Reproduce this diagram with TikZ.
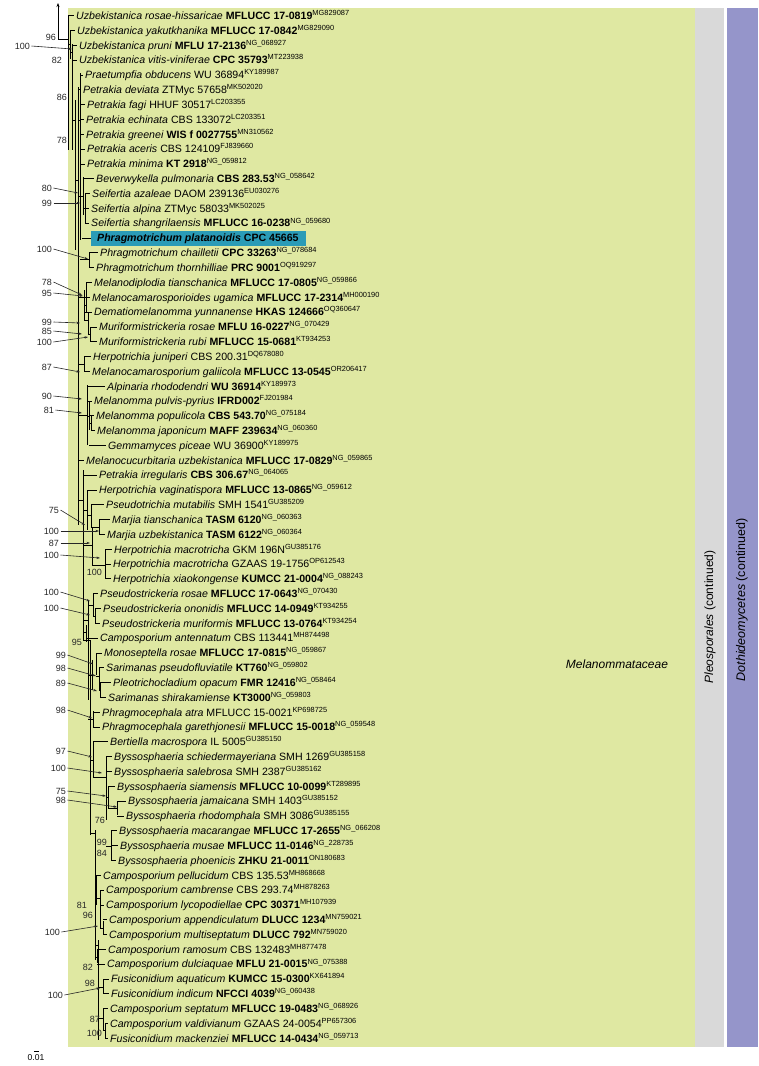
\documentclass[tikz,border=0pt]{standalone}
\usepackage{fontspec}
\setmainfont{Liberation Sans}
\usetikzlibrary{arrows.meta}
\definecolor{bggreen}{HTML}{DFE8A2}
\definecolor{bggray}{HTML}{D9D9D9}
\definecolor{bgpurple}{HTML}{9595CA}
\definecolor{hl}{HTML}{2A9BB7}
\newcommand\acc[1]{\textsuperscript{#1}}
\pgfmathdeclarefunction{ry}{1}{\pgfmathparse{15.7+14.82*(#1-1)}}
\tikzset{
  tx/.style={anchor=base west, inner sep=0pt, font=\fontsize{10.6}{12}\selectfont},
  bs/.style={anchor=east, inner sep=0pt, font=\fontsize{9}{10}\selectfont, text=black!85},
  br/.style={line width=0.8pt},
  bsarrow/.style={-{Stealth[length=3.5pt,width=2.4pt]}, line width=0.6pt, black!85},
}
\begin{document}
\begin{tikzpicture}[x=1pt,y=-1pt]
\useasboundingbox (0,0) rectangle (758,1066);
% backgrounds
\fill[bggreen] (68,8) rectangle (695,1047);
\fill[bggray] (695,8) rectangle (724,1047);
\fill[bgpurple] (727,8) rectangle (758,1047);
\fill[hl] (91,231) rectangle (306,246);

% taxa
\node[tx] (t1) at (76,{ry(1)+3.8}) {\textit{Uzbekistanica rosae-hissaricae} \textbf{MFLUCC 17-0819}\acc{MG829087}};
\node[tx] (t2) at (77,{ry(2)+3.8}) {\textit{Uzbekistanica yakutkhanika} \textbf{MFLUCC 17-0842}\acc{MG829090}};
\node[tx] (t3) at (79,{ry(3)+3.8}) {\textit{Uzbekistanica pruni} \textbf{MFLU 17-2136}\acc{NG\_068927}};
\node[tx] (t4) at (79,{ry(4)+3.8}) {\textit{Uzbekistanica vitis-viniferae} \textbf{CPC 35793}\acc{MT223938}};
\node[tx] (t5) at (85,{ry(5)+3.8}) {\textit{Praetumpfia obducens} WU 36894\acc{KY189987}};
\node[tx] (t6) at (83,{ry(6)+3.8}) {\textit{Petrakia deviata} ZTMyc 57658\acc{MK502020}};
\node[tx] (t7) at (87,{ry(7)+3.8}) {\textit{Petrakia fagi} HHUF 30517\acc{LC203355}};
\node[tx] (t8) at (86,{ry(8)+3.8}) {\textit{Petrakia echinata} CBS 133072\acc{LC203351}};
\node[tx] (t9) at (86,{ry(9)+3.8}) {\textit{Petrakia greenei} \textbf{WIS f 0027755}\acc{MN310562}};
\node[tx] (t10) at (87,{ry(10)+3.8}) {\textit{Petrakia aceris} CBS 124109\acc{FJ839660}};
\node[tx] (t11) at (87,{ry(11)+3.8}) {\textit{Petrakia minima} \textbf{KT 2918}\acc{NG\_059812}};
\node[tx] (t12) at (96,{ry(12)+3.8}) {\textit{Beverwykella pulmonaria} \textbf{CBS 283.53}\acc{NG\_058642}};
\node[tx] (t13) at (92,{ry(13)+3.8}) {\textit{Seifertia azaleae} DAOM 239136\acc{EU030276}};
\node[tx] (t14) at (91,{ry(14)+3.8}) {\textit{Seifertia alpina} ZTMyc 58033\acc{MK502025}};
\node[tx] (t15) at (91,{ry(15)+3.8}) {\textit{Seifertia shangrilaensis} \textbf{MFLUCC 16-0238}\acc{NG\_059680}};
\node[tx] (t16) at (97,{ry(16)+3.8}) {\textbf{\textit{Phragmotrichum platanoidis} CPC 45665}};
\node[tx] (t17) at (100,{ry(17)+3.8}) {\textit{Phragmotrichum chailletii} \textbf{CPC 33263}\acc{NG\_078684}};
\node[tx] (t18) at (96,{ry(18)+3.8}) {\textit{Phragmotrichum thornhilliae} \textbf{PRC 9001}\acc{OQ919297}};
\node[tx] (t19) at (94,{ry(19)+3.8}) {\textit{Melanodiplodia tianschanica} \textbf{MFLUCC 17-0805}\acc{NG\_059866}};
\node[tx] (t20) at (92,{ry(20)+3.8}) {\textit{Melanocamarosporioides ugamica} \textbf{MFLUCC 17-2314}\acc{MH000190}};
\node[tx] (t21) at (94,{ry(21)+3.8}) {\textit{Dematiomelanomma yunnanense} \textbf{HKAS 124666}\acc{OQ360647}};
\node[tx] (t22) at (99,{ry(22)+3.8}) {\textit{Muriformistrickeria rosae} \textbf{MFLU 16-0227}\acc{NG\_070429}};
\node[tx] (t23) at (99,{ry(23)+3.8}) {\textit{Muriformistrickeria rubi} \textbf{MFLUCC 15-0681}\acc{KT934253}};
\node[tx] (t24) at (93,{ry(24)+3.8}) {\textit{Herpotrichia juniperi} CBS 200.31\acc{DQ678080}};
\node[tx] (t25) at (92,{ry(25)+3.8}) {\textit{Melanocamarosporium galiicola} \textbf{MFLUCC 13-0545}\acc{OR206417}};
\node[tx] (t26) at (107,{ry(26)+3.8}) {\textit{Alpinaria rhododendri} \textbf{WU 36914}\acc{KY189973}};
\node[tx] (t27) at (94,{ry(27)+3.8}) {\textit{Melanomma pulvis-pyrius} \textbf{IFRD002}\acc{FJ201984}};
\node[tx] (t28) at (96,{ry(28)+3.8}) {\textit{Melanomma populicola} \textbf{CBS 543.70}\acc{NG\_075184}};
\node[tx] (t29) at (97,{ry(29)+3.8}) {\textit{Melanomma japonicum} \textbf{MAFF 239634}\acc{NG\_060360}};
\node[tx] (t30) at (108,{ry(30)+3.8}) {\textit{Gemmamyces piceae} WU 36900\acc{KY189975}};
\node[tx] (t31) at (86,{ry(31)+3.8}) {\textit{Melanocucurbitaria uzbekistanica} \textbf{MFLUCC 17-0829}\acc{NG\_059865}};
\node[tx] (t32) at (99,{ry(32)+3.8}) {\textit{Petrakia irregularis} \textbf{CBS 306.67}\acc{NG\_064065}};
\node[tx] (t33) at (99,{ry(33)+3.8}) {\textit{Herpotrichia vaginatispora} \textbf{MFLUCC 13-0865}\acc{NG\_059612}};
\node[tx] (t34) at (106,{ry(34)+3.8}) {\textit{Pseudotrichia mutabilis} SMH 1541\acc{GU385209}};
\node[tx] (t35) at (112,{ry(35)+3.8}) {\textit{Marjia tianschanica} \textbf{TASM 6120}\acc{NG\_060363}};
\node[tx] (t36) at (107,{ry(36)+3.8}) {\textit{Marjia uzbekistanica} \textbf{TASM 6122}\acc{NG\_060364}};
\node[tx] (t37) at (114,{ry(37)+3.8}) {\textit{Herpotrichia macrotricha} GKM 196N\acc{GU385176}};
\node[tx] (t38) at (113,{ry(38)+3.8}) {\textit{Herpotrichia macrotricha} GZAAS 19-1756\acc{OP612543}};
\node[tx] (t39) at (113,{ry(39)+3.8}) {\textit{Herpotrichia xiaokongense} \textbf{KUMCC 21-0004}\acc{NG\_088243}};
\node[tx] (t40) at (100,{ry(40)+3.8}) {\textit{Pseudostrickeria rosae} \textbf{MFLUCC 17-0643}\acc{NG\_070430}};
\node[tx] (t41) at (103,{ry(41)+3.8}) {\textit{Pseudostrickeria ononidis} \textbf{MFLUCC 14-0949}\acc{KT934255}};
\node[tx] (t42) at (102,{ry(42)+3.8}) {\textit{Pseudostrickeria muriformis} \textbf{MFLUCC 13-0764}\acc{KT934254}};
\node[tx] (t43) at (100,{ry(43)+3.8}) {\textit{Camposporium antennatum} CBS 113441\acc{MH874498}};
\node[tx] (t44) at (104,{ry(44)+3.8}) {\textit{Monoseptella rosae} \textbf{MFLUCC 17-0815}\acc{NG\_059867}};
\node[tx] (t45) at (106,{ry(45)+3.8}) {\textit{Sarimanas pseudofluviatile} \textbf{KT760}\acc{NG\_059802}};
\node[tx] (t46) at (113,{ry(46)+3.8}) {\textit{Pleotrichocladium opacum} \textbf{FMR 12416}\acc{NG\_058464}};
\node[tx] (t47) at (108,{ry(47)+3.8}) {\textit{Sarimanas shirakamiense} \textbf{KT3000}\acc{NG\_059803}};
\node[tx] (t48) at (102,{ry(48)+3.8}) {\textit{Phragmocephala atra} MFLUCC 15-0021\acc{KP698725}};
\node[tx] (t49) at (102,{ry(49)+3.8}) {\textit{Phragmocephala garethjonesii} \textbf{MFLUCC 15-0018}\acc{NG\_059548}};
\node[tx] (t50) at (110,{ry(50)+3.8}) {\textit{Bertiella macrospora} IL 5005\acc{GU385150}};
\node[tx] (t51) at (114,{ry(51)+3.8}) {\textit{Byssosphaeria schiedermayeriana} SMH 1269\acc{GU385158}};
\node[tx] (t52) at (114,{ry(52)+3.8}) {\textit{Byssosphaeria salebrosa} SMH 2387\acc{GU385162}};
\node[tx] (t53) at (117,{ry(53)+3.8}) {\textit{Byssosphaeria siamensis} \textbf{MFLUCC 10-0099}\acc{KT289895}};
\node[tx] (t54) at (128,{ry(54)+3.8}) {\textit{Byssosphaeria jamaicana} SMH 1403\acc{GU385152}};
\node[tx] (t55) at (126,{ry(55)+3.8}) {\textit{Byssosphaeria rhodomphala} SMH 3086\acc{GU385155}};
\node[tx] (t56) at (119,{ry(56)+3.8}) {\textit{Byssosphaeria macarangae} \textbf{MFLUCC 17-2655}\acc{NG\_066208}};
\node[tx] (t57) at (120,{ry(57)+3.8}) {\textit{Byssosphaeria musae} \textbf{MFLUCC 11-0146}\acc{NG\_228735}};
\node[tx] (t58) at (118,{ry(58)+3.8}) {\textit{Byssosphaeria phoenicis} \textbf{ZHKU 21-0011}\acc{ON180683}};
\node[tx] (t59) at (103,{ry(59)+3.8}) {\textit{Camposporium pellucidum} CBS 135.53\acc{MH868668}};
\node[tx] (t60) at (106,{ry(60)+3.8}) {\textit{Camposporium cambrense} CBS 293.74\acc{MH878263}};
\node[tx] (t61) at (106,{ry(61)+3.8}) {\textit{Camposporium lycopodiellae} \textbf{CPC 30371}\acc{MH107939}};
\node[tx] (t62) at (109,{ry(62)+3.8}) {\textit{Camposporium appendiculatum} \textbf{DLUCC 1234}\acc{MN759021}};
\node[tx] (t63) at (109,{ry(63)+3.8}) {\textit{Camposporium multiseptatum} \textbf{DLUCC 792}\acc{MN759020}};
\node[tx] (t64) at (108,{ry(64)+3.8}) {\textit{Camposporium ramosum} CBS 132483\acc{MH877478}};
\node[tx] (t65) at (107,{ry(65)+3.8}) {\textit{Camposporium dulciaquae} \textbf{MFLU 21-0015}\acc{NG\_075388}};
\node[tx] (t66) at (111,{ry(66)+3.8}) {\textit{Fusiconidium aquaticum} \textbf{KUMCC 15-0300}\acc{KX641894}};
\node[tx] (t67) at (111,{ry(67)+3.8}) {\textit{Fusiconidium indicum} \textbf{NFCCI 4039}\acc{NG\_060438}};
\node[tx] (t68) at (110,{ry(68)+3.8}) {\textit{Camposporium septatum} \textbf{MFLUCC 19-0483}\acc{NG\_068926}};
\node[tx] (t69) at (110,{ry(69)+3.8}) {\textit{Camposporium valdivianum} GZAAS 24-0054\acc{PP657306}};
\node[tx] (t70) at (110,{ry(70)+3.8}) {\textit{Fusiconidium mackenziei} \textbf{MFLUCC 14-0434}\acc{NG\_059713}};

% tree: root arrow
\coordinate (root) at (58,39);
\coordinate (rootup) at (58,3);
\draw[br,-{Stealth[length=4pt,width=3pt]}] (root) -- (rootup);
% tips (row / parent x / tip end x)
\foreach \i/\p/\e in {1/68/74,2/70/75,3/72/77,4/72/77,5/80/83,6/78/81,7/80/85,8/80/84,9/80/84,10/80/85,
  11/80/85,12/83/94,13/85/90,14/85/89,15/85/89,16/82/91,17/89/98,18/89/94,19/86/92,20/84/90,
  21/84/92,22/90/97,23/90/97,24/84/91,25/84/90,26/87/105,27/87/92,28/89/94,29/91/95,30/89/106,
  31/78/84,32/83/97,33/87/97,34/91/104,35/99/110,36/99/105,37/105/112,38/105/111,39/105/111,40/93/98,
  41/95/101,42/95/100,43/86/98,44/96/102,45/99/104,46/100/111,47/100/106,48/93/100,49/93/100,50/93/108,
  51/106/112,52/106/112,53/108/115,54/117/126,55/117/124,56/111/117,57/111/118,58/111/116,59/96/101,60/100/104,
  61/100/104,62/103/107,63/103/107,64/97/106,65/97/105,66/103/109,67/103/109,68/103/108,69/105/108,70/105/108}
  {\draw[br] (\p,{ry(\i)}) -- (\e,{ry(\i)});}
% vertical lines (x / top / bottom)
\foreach \x/\a/\b in {68/15.7/150,70/30/59,72/44/59,72/59/150,75/100/250,78/87/525,80/73/164,80/164/240,
  83/177/215,85/194/223,89/252/267,86/283/312,84/290/320,88/312/334,90/327/341,84/356/372,87/385/445,
  89/402/430,91/416/430,83/470/640,87/490/530,91/504/527,99/520/535,92/527/565,105/550/579,93/593/616,
  95/609/623,88/600/700,86/625/642,96/653/675,99/668/690,100/682/698,92/660/690,93/711/727,90/640/835,
  93/742/777,106/756/820,108/787/808,117/801/815,111/831/861,96/876/905,100/891/928,103/921/934,
  95/830/960,97/950/963,103/979/994,103/1009/1030,105/1023/1038,98/940/1040}
  {\draw[br] (\x,\a) -- (\x,\b);}
% connecting horizontals (x1 / x2 / y)
\foreach \u/\v/\y in {58/68/39,68/70/44,70/72/52,72/75/120,75/78/180,78/80/120,78/83/196,83/85/208,
  80/89/259,78/86/297,84/86/305,84/88/320,88/90/334,78/84/364,78/87/415,87/89/416,89/91/423,
  78/83/500,83/87/510,87/91/515,91/99/527,83/92/545,92/105/565,83/88/620,88/93/605,93/95/616,
  83/86/632,83/90/640,88/92/675,96/99/676,99/100/690,88/93/719,90/93/760,93/106/777,106/108/797,
  108/117/808,106/111/846,90/95/833,95/96/890,96/100/898,100/103/928,95/98/945,95/97/957,
  98/103/987,98/103/1018,103/105/1030}
  {\draw[br] (\u,\y) -- (\v,\y);}

% support values without arrows
\node[bs] (s1) at (56,37) {96};
\node[bs] (s2) at (62,60) {82};
\node[bs] (s3) at (67,97) {86};
\node[bs] (s4) at (67,140) {78};
\node[bs] (s5) at (102,572) {100};
\node[bs] (s6) at (82,642) {95};
\node[bs] (s7) at (105,820) {76};
\node[bs] (s8) at (107,842) {99};
\node[bs] (s9) at (107,853) {84};
\node[bs] (s10) at (87,905) {81};
\node[bs] (s11) at (93,915) {96};
\node[bs] (s12) at (93,967) {82};
\node[bs] (s13) at (95,983) {98};
\node[bs] (s14) at (100,1019) {87};
\node[bs] (s15) at (102,1033) {100};

% support values with arrows (label / text x / y / target x / target y)
\foreach \n/\l/\lx/\ly/\tx/\ty in {a1/100/30/46/72/49, a2/80/52/188/78/193, a3/99/52/203/80/203,
  a4/100/52/249/88/259, a5/78/52/282/82/295, a6/95/52/293/83/296, a7/99/52/322/80/323,
  a8/85/52/331/82/334, a9/100/52/342/88/337, a10/87/52/367/80/372, a11/90/52/396/82/399,
  a12/81/54/410/82/413, a13/75/59/510/85/525, a14/100/59/531/99/531, a15/87/59/543/90/543,
  a16/100/59/555/100/558, a17/100/59/592/90/601, a18/100/59/608/90/615, a19/99/66/655/93/664,
  a20/98/66/668/96/676, a21/89/66/683/97/691, a22/98/66/710/92/718, a23/97/66/751/92/757,
  a24/100/66/768/102/773, a25/75/66/791/106/796, a26/98/66/800/117/807, a27/100/60/932/98/926,
  a28/100/63/995/100/988}
  {\node[bs] (\n) at (\lx,\ly) {\l};
   \coordinate (\n t) at (\tx,\ty);
   \draw[bsarrow] ([xshift=1.5pt]\n.east) -- (\n t);}

% right labels
\node[inner sep=0pt, font=\fontsize{12}{14}\selectfont\itshape] (fam) at (617,664) {Melanommataceae};
\node[inner sep=0pt, rotate=90, font=\fontsize{12}{14}\selectfont] (ord) at (710,617) {\textit{Pleosporales} (continued)};
\node[inner sep=0pt, rotate=90, font=\fontsize{12.5}{14}\selectfont] (cls) at (742,600) {\textit{Dothideomycetes} (continued)};

% scale bar
\coordinate (sb1) at (34,1051);
\coordinate (sb2) at (39,1051);
\draw[line width=0.8pt] (sb1) -- (sb2);
\node[inner sep=0pt, font=\fontsize{8.5}{9}\selectfont] (sbl) at (36,1058) {0.01};
\end{tikzpicture}
\end{document}
